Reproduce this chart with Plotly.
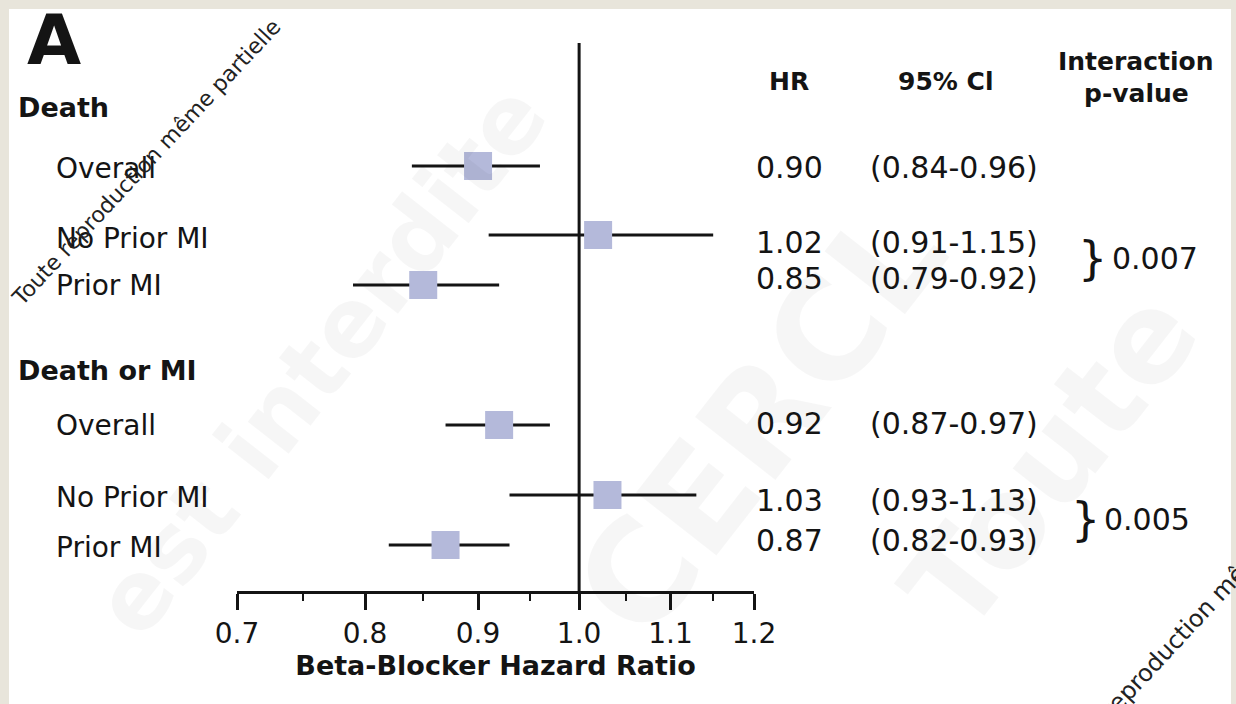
import math
import plotly.graph_objects as go

# ---- data -------------------------------------------------------------
outcomes = ["Death", "Death or MI"]
subgroups = ["Overall", "No Prior MI", "Prior MI"]

hr_death = [0.90, 1.02, 0.85]
lo_death = [0.84, 0.91, 0.79]
hi_death = [0.96, 1.15, 0.92]

hr_death_mi = [0.92, 1.03, 0.87]
lo_death_mi = [0.87, 0.93, 0.82]
hi_death_mi = [0.97, 1.13, 0.93]

p_interaction = ["0.007", "0.005"]

tick_vals = [0.7, 0.8, 0.9, 1.0, 1.1, 1.2]
tick_text = ["0.7", "0.8", "0.9", "1.0", "1.1", "1.2"]
minor_tick_vals = [0.75, 0.85, 0.95, 1.05, 1.15]

# ---- layout geometry (pixels) -----------------------------------------
W, H = 1236, 704
PL, PR, PT, PB = 237, 754, 40, 591          # plot area edges

header_y = [108, 370]
mark_y = [[166, 235, 285], [425, 495, 545]]
label_y = [[168, 238, 285], [425, 497, 547]]
text_y = [[167, 242, 278], [423, 500, 540]]
brace_y = [258, 519]

FONT = "DejaVu Sans"
INK = "#141414"
BOX = "#b4b9da"


def px(x):
    return (x - PL) / (PR - PL)


def py(y):
    return (PB - y) / (PB - PT)


fig = go.Figure()

# reference line at HR = 1
fig.add_trace(go.Scatter(x=[1.0, 1.0], y=[43, PB], mode="lines",
                         line=dict(color=INK, width=3), hoverinfo="skip",
                         showlegend=False))

series = [(hr_death, lo_death, hi_death), (hr_death_mi, lo_death_mi, hi_death_mi)]

for k, (hr, lo, hi) in enumerate(series):
    xs, ys = [], []
    for i in range(len(hr)):
        xs += [lo[i], hi[i], None]
        ys += [mark_y[k][i], mark_y[k][i], None]
    fig.add_trace(go.Scatter(x=xs, y=ys, mode="lines",
                             line=dict(color=INK, width=3),
                             hoverinfo="skip", showlegend=False))
    fig.add_trace(go.Scatter(x=hr, y=mark_y[k], mode="markers",
                             marker=dict(symbol="square", size=28, color=BOX,
                                         line=dict(width=0)),
                             name=outcomes[k], showlegend=False))

ann = []


def text(x, y, s, size=28, bold=False, anchor="left", color=INK, angle=0,
         family=FONT):
    ann.append(dict(x=px(x), y=py(y), xref="paper", yref="paper", text=s,
                    showarrow=False, xanchor=anchor, yanchor="middle",
                    textangle=angle,
                    font=dict(family=family, size=size, color=color,
                              weight="bold" if bold else "normal")))


# faint background watermark
text(320, 360, "est interdite", size=95, anchor="center",
     color="rgba(0,0,0,0.035)", angle=-52, bold=True)
text(760, 420, "CERCL", size=140, anchor="center",
     color="rgba(0,0,0,0.035)", angle=-52, bold=True)
text(1050, 460, "Toute", size=125, anchor="center",
     color="rgba(0,0,0,0.035)", angle=-52, bold=True)

# panel letter
text(25, 40, "A", size=70, bold=True)

# left labels
for k in range(2):
    text(16, header_y[k], outcomes[k], size=27, bold=True)
    for i, g in enumerate(subgroups):
        text(54, label_y[k][i], g, size=28)

# column headers
text(789, 81, "HR", size=25, bold=True, anchor="center")
text(945, 81, "95% Cl", size=25, bold=True, anchor="center")
text(1136, 62, "Interaction", size=25, bold=True, anchor="center")
text(1136, 94, "p-value", size=25, bold=True, anchor="center")

# HR and CI values
for k, (hr, lo, hi) in enumerate(series):
    for i in range(len(hr)):
        text(754, text_y[k][i], f"{hr[i]:.2f}", size=30)
        text(868, text_y[k][i], f"({lo[i]:.2f}-{hi[i]:.2f})", size=30)
    text(1092 - 7 * k, brace_y[k], "}", size=46, anchor="center")
    text(1110 - 8 * k, brace_y[k], p_interaction[k], size=30)

# overlaid watermark text
text(146, 162, "Toute reproduction même partielle", size=22, anchor="center",
     angle=-47, color="#222222")
text(1198, 616, "Toute reproduction même partielle", size=24, anchor="center",
     angle=-47, color="#222222")

fig.update_layout(
    width=W, height=H,
    margin=dict(l=PL, r=W - PR, t=PT, b=H - PB),
    paper_bgcolor="#e8e5db",
    plot_bgcolor="white",
    annotations=ann,
    shapes=[dict(type="rect", xref="paper", yref="paper", layer="below",
                 x0=px(9), x1=px(1231), y0=py(9), y1=py(H + 5),
                 fillcolor="white", line=dict(width=0))],
    xaxis=dict(type="log", range=[math.log10(0.7), math.log10(1.2)],
               tickmode="array", tickvals=tick_vals, ticktext=tick_text,
               ticks="outside", ticklen=16, tickwidth=2.5, tickcolor=INK,
               showline=True, linewidth=2.5, linecolor=INK,
               showgrid=False, zeroline=False,
               tickfont=dict(family=FONT, size=28, color=INK),
               minor=dict(tickmode="array", tickvals=minor_tick_vals,
                          ticks="outside", ticklen=7, tickwidth=2,
                          tickcolor=INK, showgrid=False),
               title=dict(text="Beta-Blocker Hazard Ratio", standoff=6,
                          font=dict(family=FONT, size=27, color=INK,
                                    weight="bold"))),
    yaxis=dict(range=[PB, PT], visible=False, showgrid=False, zeroline=False),
)

fig.write_html("out.html")
